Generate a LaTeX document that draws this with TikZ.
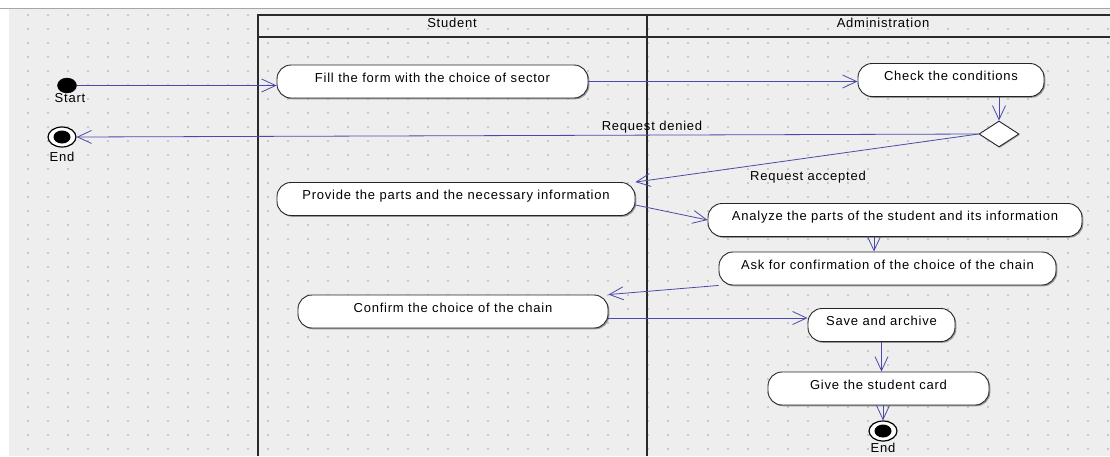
\documentclass[tikz,border=0pt]{standalone}
\usepackage{fontspec}
\setmainfont[LetterSpace=6]{Liberation Sans}
\usetikzlibrary{arrows.meta,shapes.geometric,shadows}
\definecolor{bgc}{HTML}{EEEEEE}
\definecolor{dotc}{HTML}{C8C8C8}
\definecolor{edgec}{HTML}{4A4AAA}
\definecolor{lanec}{HTML}{2A2A2A}
\tikzset{
  act/.style={draw=black!85, fill=white, line width=0.9pt, rectangle, rounded corners=14pt,
    minimum height=33pt, inner sep=0pt, font=\fontsize{13}{15}\selectfont,
    text height=7.5pt, text depth=6.5pt,
    drop shadow={shadow xshift=1.3pt, shadow yshift=-1.3pt, fill=black!55, opacity=0.7}},
  flow/.style={draw=edgec, line width=0.8pt, -{Straight Barb[length=14pt,width=13pt,line width=0.8pt]}},
  lane/.style={draw=lanec, line width=1.4pt},
  lbl/.style={font=\fontsize{13}{15}\selectfont, inner sep=0pt},
  initst/.style={ellipse, fill=black, draw=black, minimum width=19pt, minimum height=15pt, inner sep=0pt},
  finalst/.style={ellipse, fill=white, draw=black, line width=1.2pt, minimum width=28pt, minimum height=20pt, inner sep=0pt,
    path picture={\fill[black] (path picture bounding box.center) ellipse [x radius=8.5pt, y radius=6.5pt];}},
  decision/.style={diamond, draw=black!85, fill=white, line width=0.9pt, minimum width=40pt, minimum height=26pt, inner sep=0pt,
    drop shadow={shadow xshift=1pt, shadow yshift=-1pt, fill=black!50, opacity=0.6}}
}
\begin{document}
\begin{tikzpicture}[x=1pt,y=-1pt]
\useasboundingbox (0,0) rectangle (1110,456);
\fill[white] (0,0) rectangle (1110,456);
\fill[bgc] (9,9) rectangle (1110,456);
\draw[black!35, line width=0.8pt] (0,8) -- (1110,8);
% dot grid
\foreach \i in {0,...,54}{
  \foreach \j in {0,...,31}{
    \fill[dotc] ({28+20*\i-0.7},{15+14*\j-0.7}) rectangle ++(1.4,1.4);
  }
}
% swimlanes
\draw[lane] (1110,15) -- (258,15) -- (258,456);
\draw[lane] (258,37) -- (1110,37);
\draw[lane] (647,15) -- (647,456);
\node[lbl] (laneS) at (452,23) {Student};
\node[lbl] (laneA) at (883,23) {Administration};

% nodes
\node[initst] (start) at (67,85.5) {};
\node[lbl] (startl) at (70,98) {Start};
\node[finalst] (endA) at (62,137) {};
\node[lbl] (endAl) at (62,157) {End};

\node[act, minimum width=311pt] (fill) at (432.5,81.5) {Fill the form with the choice of sector};
\node[act, minimum width=186pt] (check) at (951,80) {Check the conditions};
\node[decision] (dia) at (999,134) {};
\node[act, minimum width=358pt] (prov) at (456,199) {Provide the parts and the necessary information};
\node[act, minimum width=374pt] (ana) at (895,220) {Analyze the parts of the student and its information};
\node[act, minimum width=337pt] (ask) at (887.5,268.5) {Ask for confirmation of the choice of the chain};
\node[act, minimum width=310pt] (conf) at (453,311.5) {Confirm the choice of the chain};
\node[act, minimum width=147pt] (save) at (881.5,325) {Save and archive};
\node[act, minimum width=221pt] (give) at (878.5,388.5) {Give the student card};
\node[finalst] (endB) at (883,431) {};
\node[lbl] (endBl) at (883,448) {End};

\node[lbl] (denied) at (652,127) {Request denied};
\node[lbl] (accepted) at (808,177) {Request accepted};

% edges
\draw[flow] (start.east) -- (start.east -| fill.west);
\draw[flow] (fill.east) -- (fill.east -| check.west);
\draw[flow] (dia.north |- check.south) -- (dia.north);
\draw[flow] (dia.west) -- (endA.east);
\draw[flow] (dia.west) -- (prov.north east);
\draw[flow] ([yshift=-6pt]prov.east) -- (ana.west);
\draw[flow] ([xshift=-21pt]ana.south) -- ([xshift=-21pt]ana.south |- ask.north);
\draw[flow] (ask.south west) -- (conf.north east);
\draw[flow] ([yshift=-6.5pt]conf.east) -- ([yshift=-6.5pt]conf.east -| save.west);
\draw[flow] (save.south) -- (save.south |- give.north);
\draw[flow] (give.south -| endB.north) -- (endB.north);
\end{tikzpicture}
\end{document}
